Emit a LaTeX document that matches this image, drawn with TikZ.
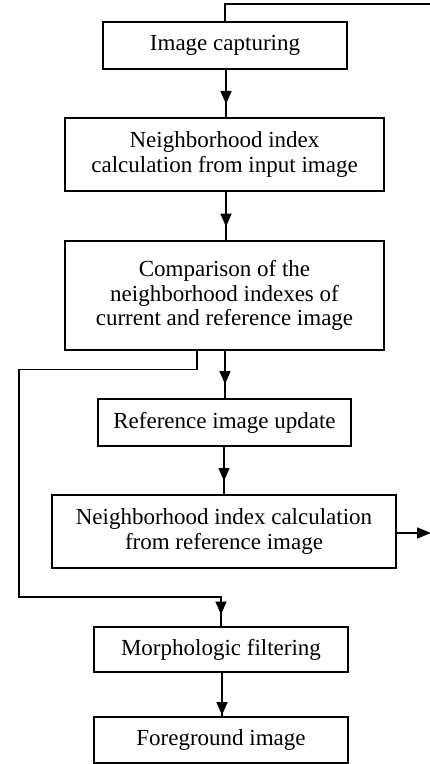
\documentclass[tikz,border=0pt]{standalone}
\usepackage{fontspec}
\setmainfont{Liberation Serif}
\usetikzlibrary{arrows.meta,decorations.markings}

\tikzset{
  stepbox/.style={draw, line width=1.3pt, inner sep=0pt, align=center,
    font=\fontsize{23}{24.5}\selectfont},
  flow/.style={line width=1.5pt},
  tipat/.style={flow, postaction={decorate}, decoration={markings,
    mark=at position #1 with {\arrow{Triangle[width=11pt,length=13pt]}}}},
}

\begin{document}
\begin{tikzpicture}[x=1pt,y=-1pt]
  \useasboundingbox (0,0) rectangle (430,764);

  % process boxes
  \node[stepbox, minimum width=244pt, minimum height=47pt] (cap) at (225,45.5) {Image capturing};
  \node[stepbox, minimum width=319pt, minimum height=73pt] (nin) at (224.5,154.5)
    {Neighborhood index\\calculation from input image};
  \node[stepbox, minimum width=319pt, minimum height=109pt] (cmp) at (224.5,295.5)
    {Comparison of the\\neighborhood indexes of\\current and reference image};
  \node[stepbox, minimum width=253pt, minimum height=47pt] (upd) at (224.5,422.5) {Reference image update};
  \node[stepbox, minimum width=344pt, minimum height=73pt] (nref) at (224,531.5)
    {Neighborhood index calculation\\from reference image};
  \node[stepbox, minimum width=254pt, minimum height=45pt] (mor) at (221,649.5) {Morphologic filtering};
  \node[stepbox, minimum width=254pt, minimum height=46pt] (fg) at (221,740) {Foreground image};

  % free ends at the right border
  \coordinate (loopin) at (430,4);
  \coordinate (loopout) at (431,533);

  % main flow
  \draw[tipat=0.72] ([xshift=1pt]cap.south) -- ([xshift=1pt]cap.south |- nin.north);
  \draw[tipat=0.72] ([xshift=1.5pt]nin.south) -- ([xshift=1.5pt]cmp.north);
  \draw[tipat=0.7] ([xshift=0.5pt]cmp.south) -- ([xshift=0.5pt]upd.north);
  \draw[tipat=0.72] ([xshift=-0.5pt]upd.south) -- ([xshift=-0.5pt]upd.south |- nref.north);
  \draw[tipat=0.97] ([xshift=1pt]mor.south) -- ([xshift=1pt]fg.north);

  % branch from the comparison to the filtering
  \draw[tipat=0.982] ([xshift=-27.5pt]cmp.south) -- ++(0,19) -| (19,597) -| (mor.north);

  % loop connections leaving the picture
  \draw[flow, -{Triangle[width=11pt,length=14pt]}] (nref.east |- loopout) -- (loopout);
  \draw[flow] (cap.north) |- (loopin);
\end{tikzpicture}
\end{document}
